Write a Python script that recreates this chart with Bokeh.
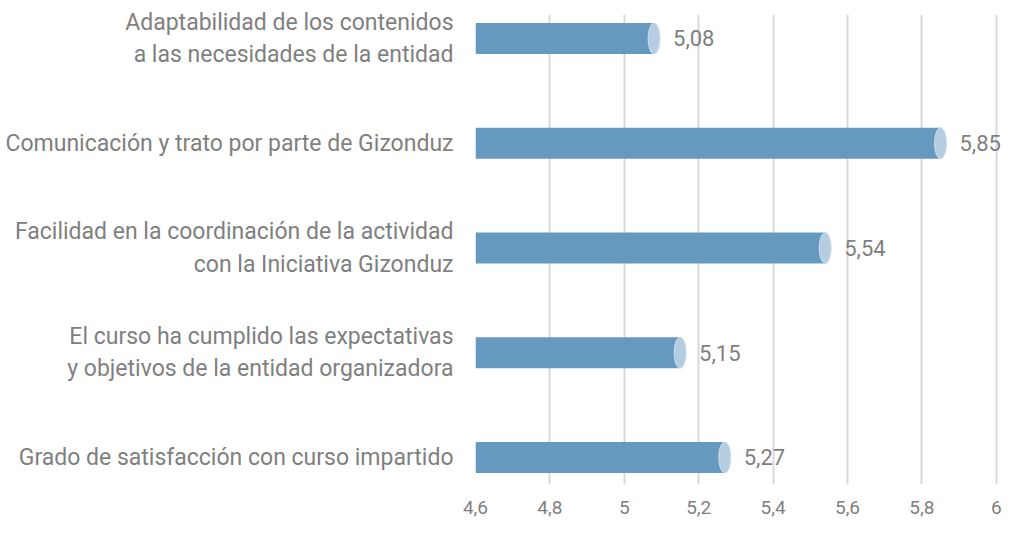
from bokeh.plotting import figure
from bokeh.models import FixedTicker, ColumnDataSource, LabelSet
from bokeh.core.properties import value
from bokeh.embed import file_html
from bokeh.resources import INLINE

categories = [
    "Grado de satisfacción con curso impartido",
    "El curso ha cumplido las expectativas\ny objetivos de la entidad organizadora",
    "Facilidad en la coordinación de la actividad\ncon la Iniciativa Gizonduz",
    "Comunicación y trato por parte de Gizonduz",
    "Adaptabilidad de los contenidos\na las necesidades de la entidad",
]
values = [5.27, 5.15, 5.54, 5.85, 5.08]
value_labels = ["5,27", "5,15", "5,54", "5,85", "5,08"]
x_ticks = [4.6, 4.8, 5.0, 5.2, 5.4, 5.6, 5.8, 6.0]
x_tick_labels = ["4,6", "4,8", "5", "5,2", "5,4", "5,6", "5,8", "6"]

FONT = "Roboto"
GREY = "#7f7f7f"
BAR = "#6699c0"
CAP = "#b5cde1"

pos = list(range(len(categories)))
src = ColumnDataSource(dict(y=pos, v=values, lab=value_labels,
                            left=[x_ticks[0]] * len(values)))

p = figure(width=1004, height=518, output_backend="svg", toolbar_location=None,
           x_range=(4.6, 6.022), y_range=(-0.258, 4.229),
           min_border_left=475, min_border_right=0, min_border_top=14,
           min_border_bottom=34)
p.outline_line_color = None
p.background_fill_color = "white"
p.border_fill_color = "white"

p.hbar(y="y", left="left", right="v", height=0.296, source=src,
       fill_color=BAR, line_color=None)
p.ellipse(x="v", y="y", width=12, height=0.296, width_units="screen",
          source=src, fill_color=CAP, line_color="#cddcea", line_width=1)

labels = LabelSet(x="v", y="y", text="lab", source=src, x_offset=19,
                  text_baseline="middle", text_align="left",
                  text_font=value(FONT), text_font_size=value("22px"),
                  text_color=GREY)
p.add_layout(labels)

p.xaxis.ticker = FixedTicker(ticks=x_ticks)
p.xaxis.major_label_overrides = {t: l for t, l in zip(x_ticks, x_tick_labels)}
p.xaxis.axis_line_color = None
p.xaxis.major_tick_line_color = None
p.xaxis.minor_tick_line_color = None
p.xaxis.major_label_standoff = 10
p.xaxis.major_label_text_font = FONT
p.xaxis.major_label_text_font_size = "19px"
p.xaxis.major_label_text_color = GREY

p.yaxis.ticker = FixedTicker(ticks=pos)
p.yaxis.major_label_overrides = {i: c for i, c in zip(pos, categories)}
p.yaxis.axis_line_color = None
p.yaxis.major_tick_line_color = None
p.yaxis.minor_tick_line_color = None
p.yaxis.major_label_standoff = 16
p.yaxis.major_label_text_font = FONT
p.yaxis.major_label_text_font_size = "23px"
p.yaxis.major_label_text_color = GREY

p.xgrid.grid_line_color = "#d9d9d9"
p.xgrid.grid_line_width = 2
p.ygrid.grid_line_color = None

open("out.html", "w").write(file_html(p, INLINE))
